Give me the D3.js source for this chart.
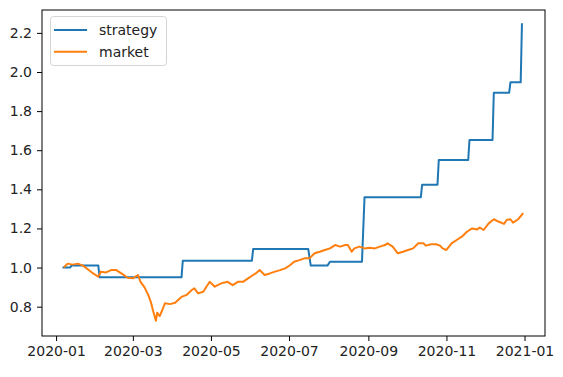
<!DOCTYPE html>
<html>
<head>
<meta charset="utf-8">
<script src="https://cdn.jsdelivr.net/npm/d3@7"></script>
<style>
  body { margin: 0; background: #fff; }
  svg { display: block; font-family: "DejaVu Sans", sans-serif; }
</style>
</head>
<body>
<div id="container"><svg></svg></div>
<script>
// strategy: step curve, change points
let strategyDates = ["2020-01-06","2020-01-12","2020-01-13","2020-02-03","2020-02-04","2020-04-08","2020-04-09",
    "2020-06-02","2020-06-03","2020-07-16","2020-07-18","2020-07-31","2020-08-02","2020-08-27","2020-08-29",
    "2020-10-12","2020-10-13","2020-10-25","2020-10-26","2020-11-18","2020-11-19","2020-12-07","2020-12-08",
    "2020-12-20","2020-12-21","2020-12-29","2020-12-30"];
let strategyValues = [1.0,1.0,1.01,1.01,0.95,0.95,1.035,
    1.035,1.095,1.095,1.01,1.01,1.03,1.03,1.36,
    1.36,1.424,1.424,1.55,1.55,1.652,1.652,1.894,
    1.894,1.947,1.947,2.249];

// market
let marketDates = ["2020-01-07","2020-01-10","2020-01-14","2020-01-18","2020-01-22","2020-01-26","2020-01-30",
    "2020-02-03","2020-02-05","2020-02-09","2020-02-13","2020-02-17","2020-02-21","2020-02-26","2020-03-01",
    "2020-03-05","2020-03-07","2020-03-10","2020-03-13","2020-03-15","2020-03-17","2020-03-19","2020-03-20",
    "2020-03-22","2020-03-24","2020-03-26","2020-03-30","2020-04-03","2020-04-08","2020-04-12","2020-04-16",
    "2020-04-18","2020-04-21","2020-04-25","2020-04-30","2020-05-04","2020-05-09","2020-05-14","2020-05-18",
    "2020-05-22","2020-05-26","2020-05-30","2020-06-03","2020-06-05","2020-06-08","2020-06-12","2020-06-16",
    "2020-06-20","2020-06-24","2020-06-28","2020-07-02","2020-07-05","2020-07-09","2020-07-13","2020-07-17",
    "2020-07-21","2020-07-25","2020-07-29","2020-08-02","2020-08-06","2020-08-10","2020-08-14","2020-08-16",
    "2020-08-19","2020-08-21","2020-08-25","2020-08-29","2020-09-02","2020-09-06","2020-09-10","2020-09-14",
    "2020-09-16","2020-09-20","2020-09-24","2020-09-28","2020-10-02","2020-10-06","2020-10-10","2020-10-14",
    "2020-10-16","2020-10-20","2020-10-24","2020-10-27","2020-10-29","2020-11-01","2020-11-05","2020-11-09",
    "2020-11-13","2020-11-17","2020-11-21","2020-11-25","2020-11-27","2020-11-30","2020-12-04","2020-12-08",
    "2020-12-12","2020-12-16","2020-12-18","2020-12-21","2020-12-23","2020-12-27","2020-12-31"];
let marketValues = [1.0,1.02,1.015,1.02,1.01,0.99,0.97,
    0.953,0.979,0.975,0.987,0.987,0.97,0.948,0.945,
    0.962,0.927,0.90,0.86,0.825,0.774,0.728,0.769,
    0.752,0.783,0.817,0.813,0.82,0.85,0.86,0.885,
    0.894,0.868,0.876,0.927,0.902,0.919,0.927,0.91,
    0.927,0.927,0.945,0.962,0.97,0.987,0.962,0.97,
    0.979,0.987,0.996,1.013,1.03,1.038,1.047,1.047,
    1.073,1.081,1.09,1.098,1.115,1.107,1.115,1.115,
    1.081,1.098,1.107,1.098,1.101,1.098,1.107,1.115,
    1.124,1.107,1.073,1.081,1.09,1.098,1.124,1.124,
    1.112,1.119,1.119,1.112,1.098,1.09,1.124,1.141,
    1.158,1.183,1.2,1.195,1.205,1.192,1.226,1.247,
    1.234,1.223,1.243,1.247,1.229,1.247,1.278];

let yTicks = [0.8,1.0,1.2,1.4,1.6,1.8,2.0,2.2];
let xTickDates = ["2020-01-01","2020-03-01","2020-05-01","2020-07-01","2020-09-01","2020-11-01","2021-01-01"];

let width = 563, height = 377;
let parse = d3.utcParse("%Y-%m-%d");

function draw_chart() {
    let svg = d3.select('#container').select('svg')
        .attr('width', width)
        .attr('height', height);

    let left = 42, right = 545, top = 10, bottom = 336;

    let x = d3.scaleUtc()
        .domain([parse("2019-12-21"), parse("2021-01-17")])
        .range([left, right]);
    let y = d3.scaleLinear()
        .domain([0.65, 2.317])
        .range([bottom, top]);

    let strategy = strategyDates.map((d, i) => ({date: parse(d), value: strategyValues[i]}));
    let market = marketDates.map((d, i) => ({date: parse(d), value: marketValues[i]}));

    let line = d3.line().x(d => x(d.date)).y(d => y(d.value));

    svg.append("path")
        .datum(strategy)
        .attr("fill", "none")
        .attr("stroke", "#1f77b4")
        .attr("stroke-width", 2)
        .attr("stroke-linejoin", "round")
        .attr("d", line);

    svg.append("path")
        .datum(market)
        .attr("fill", "none")
        .attr("stroke", "#ff7f0e")
        .attr("stroke-width", 2)
        .attr("stroke-linejoin", "round")
        .attr("d", line);

    // axes
    let xAxis = d3.axisBottom(x)
        .tickValues(xTickDates.map(parse))
        .tickFormat(d3.utcFormat("%Y-%m"))
        .tickSize(5)
        .tickPadding(5);
    let yAxis = d3.axisLeft(y)
        .tickValues(yTicks)
        .tickFormat(d3.format(".1f"))
        .tickSize(5)
        .tickPadding(5);

    let gx = svg.append("g")
        .attr("transform", `translate(0,${bottom})`)
        .call(xAxis);
    let gy = svg.append("g")
        .attr("transform", `translate(${left},0)`)
        .call(yAxis);
    [gx, gy].forEach(g => {
        g.select(".domain").remove();
        g.selectAll(".tick line").attr("stroke", "#000").attr("stroke-width", 1);
        g.selectAll(".tick text")
            .attr("fill", "#222")
            .style("font-size", "14px")
            .style("font-family", "DejaVu Sans");
    });

    // frame
    svg.append("rect")
        .attr("x", left)
        .attr("y", top)
        .attr("width", right - left)
        .attr("height", bottom - top)
        .attr("fill", "none")
        .attr("stroke", "#000")
        .attr("stroke-width", 1);

    // legend
    let legend = svg.append("g");
    legend.append("rect")
        .attr("x", 50.5).attr("y", 16.5)
        .attr("width", 116).attr("height", 49)
        .attr("rx", 3)
        .attr("fill", "#fff")
        .attr("stroke", "#d5d5d5");
    let items = [["strategy", "#1f77b4"], ["market", "#ff7f0e"]];
    items.forEach((it, i) => {
        let ly = 30 + i * 21.7;
        legend.append("line")
            .attr("x1", 54).attr("x2", 87)
            .attr("y1", ly).attr("y2", ly)
            .attr("stroke", it[1]).attr("stroke-width", 2);
        legend.append("text")
            .attr("x", 99).attr("y", ly + 5)
            .attr("fill", "#222")
            .style("font-size", "14px")
            .text(it[0]);
    });
}

draw_chart();
</script>
</body>
</html>
